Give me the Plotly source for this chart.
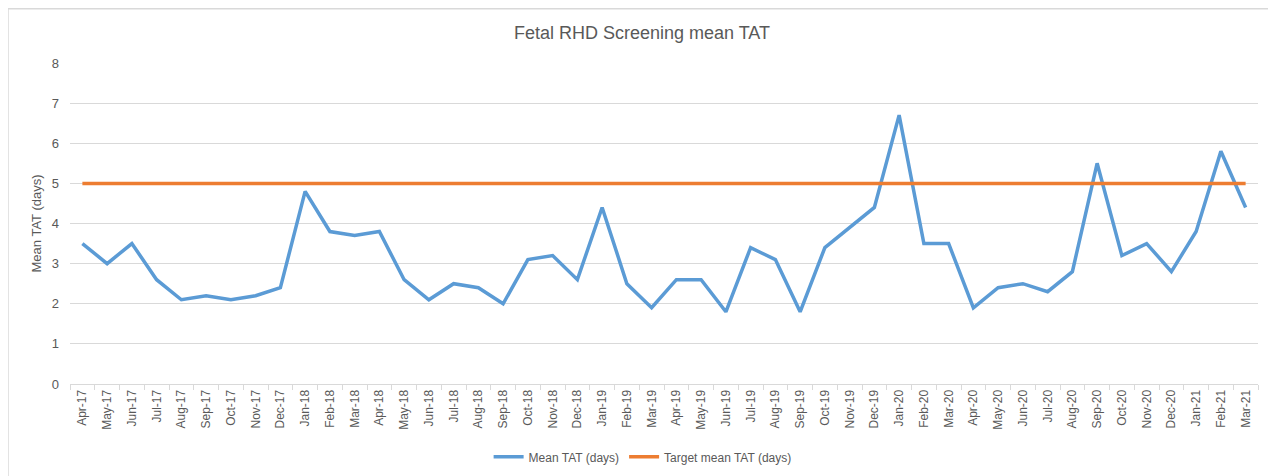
import plotly.graph_objects as go

months = ["Apr-17","May-17","Jun-17","Jul-17","Aug-17","Sep-17","Oct-17","Nov-17","Dec-17",
          "Jan-18","Feb-18","Mar-18","Apr-18","May-18","Jun-18","Jul-18","Aug-18","Sep-18","Oct-18","Nov-18","Dec-18",
          "Jan-19","Feb-19","Mar-19","Apr-19","May-19","Jun-19","Jul-19","Aug-19","Sep-19","Oct-19","Nov-19","Dec-19",
          "Jan-20","Feb-20","Mar-20","Apr-20","May-20","Jun-20","Jul-20","Aug-20","Sep-20","Oct-20","Nov-20","Dec-20",
          "Jan-21","Feb-21","Mar-21"]
mean_tat = [3.5,3.0,3.5,2.6,2.1,2.2,2.1,2.2,2.4,
            4.8,3.8,3.7,3.8,2.6,2.1,2.5,2.4,2.0,3.1,3.2,2.6,
            4.4,2.5,1.9,2.6,2.6,1.8,3.4,3.1,1.8,3.4,3.9,4.4,
            6.7,3.5,3.5,1.9,2.4,2.5,2.3,2.8,5.5,3.2,3.5,2.8,
            3.8,5.8,4.4]
target_tat = [5.0]*len(months)

FONT = "Liberation Sans Narrow, Arial Narrow, Liberation Sans, sans-serif"
GREY = "#595959"

fig = go.Figure()
fig.add_trace(go.Scatter(x=months, y=mean_tat, mode="lines", name="Mean TAT (days)",
                         line=dict(color="#5B9BD5", width=3.5)))
fig.add_trace(go.Scatter(x=months, y=target_tat, mode="lines", name="Target mean TAT (days)",
                         line=dict(color="#ED7D31", width=3.5)))

fig.update_layout(
    width=1276, height=476,
    margin=dict(l=62, r=26, t=55, b=100, autoexpand=False),
    paper_bgcolor="white", plot_bgcolor="white",
    font=dict(family=FONT, color=GREY, size=12),
    title=dict(text="Fetal RHD Screening mean TAT", x=0.5 - 4/1276, xanchor="center", y=1 - 25/476, yanchor="middle",
               font=dict(size=18, color=GREY, family=FONT)),
    legend=dict(orientation="h", x=0.482, xanchor="center", y=-0.227, yanchor="middle",
                font=dict(size=12, color=GREY), traceorder="normal"),
    showlegend=True,
)
fig.update_xaxes(type="category", range=[-0.5, len(months)-0.5], tickangle=-90, automargin=False,
                 showgrid=False, showline=True, linecolor="#D9D9D9", linewidth=1,
                 ticks="outside", tickson="boundaries", ticklen=5, tickcolor="#D9D9D9",
                 tickfont=dict(size=12, color=GREY))
fig.update_yaxes(range=[0, 8], dtick=1, showgrid=True, gridcolor="#D9D9D9", gridwidth=1, automargin=False,
                 zeroline=False, showline=False, ticks="", ticklabelstandoff=10,
                 tickfont=dict(size=13, color=GREY),
                 title=dict(text="Mean TAT (days)", font=dict(size=13, color=GREY), standoff=7))

fig.add_shape(type="rect", xref="paper", yref="paper", x0=-0.0522, x1=1.0143, y0=-0.33, y1=1.169,
              line=dict(color="#D9D9D9", width=1.5), fillcolor="rgba(0,0,0,0)", layer="below")

fig.write_html("out.html")
